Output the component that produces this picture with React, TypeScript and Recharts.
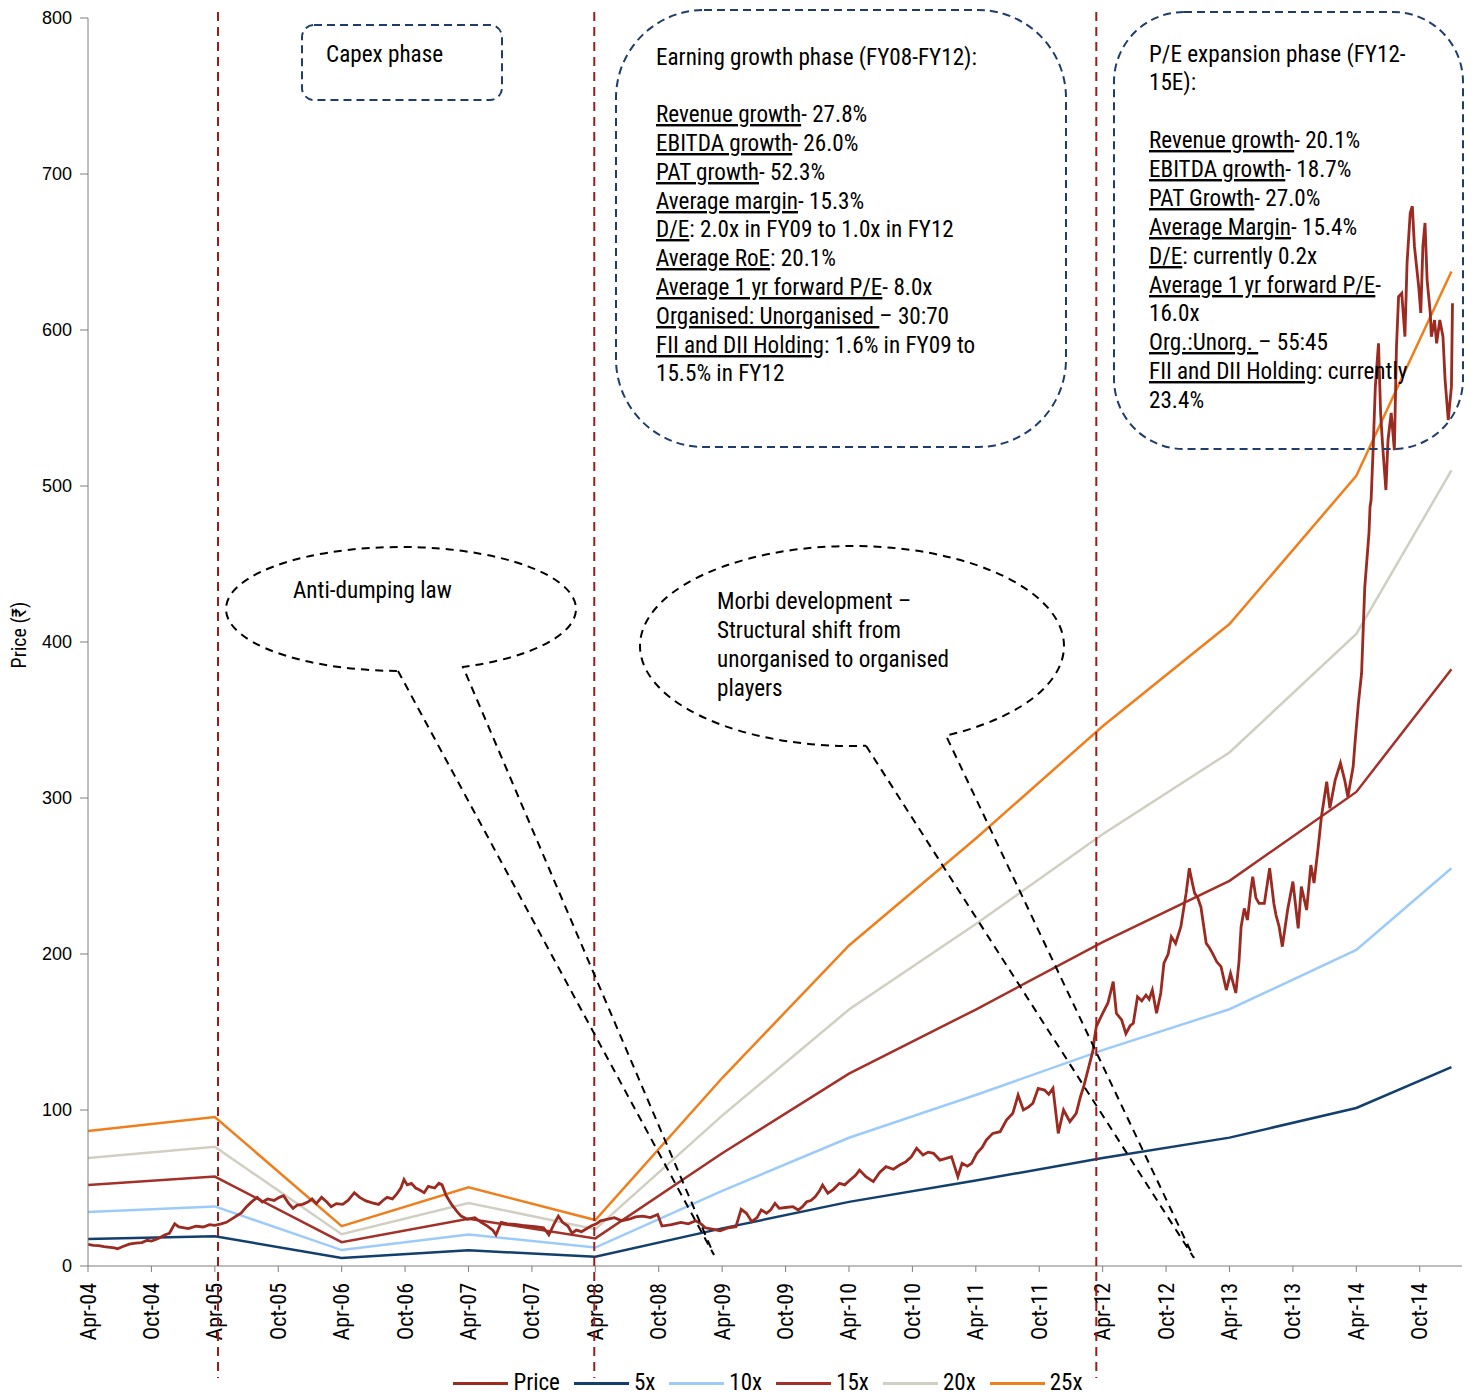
import React from 'react';
import { LineChart, Line, XAxis, YAxis, Legend } from 'recharts';

// ---------- DATA ----------
// months since Apr-04 (0 = Apr-04)
const bandMonths = [0, 12, 24, 36, 48, 60, 72, 84, 96, 108, 120, 129];
const pe5x = [17.3, 19.1, 5.1, 10.1, 5.9, 24.1, 41.1, 54.8, 69.2, 82.3, 101.3, 127.5];
const pe10x = [34.6, 38.2, 10.2, 20.2, 11.8, 48.2, 82.2, 109.6, 138.4, 164.6, 202.6, 255];
const pe15x = [51.9, 57.3, 15.3, 30.3, 17.7, 72.3, 123.3, 164.4, 207.6, 246.9, 303.9, 382.5];
const pe20x = [69.2, 76.4, 20.4, 40.4, 23.6, 96.4, 164.4, 219.2, 276.8, 329.2, 405.2, 510];
const pe25x = [86.5, 95.5, 25.5, 50.5, 29.5, 120.5, 205.5, 274, 346, 411.5, 506.5, 637.5];

// [month, price]
const pricePoints: [number, number][] = [
  [0, 13.9], [0.5, 13.2], [1, 13], [1.5, 12.4], [2.1, 12], [2.5, 11.6], [2.8, 11], [3.3, 12.5], [3.9, 14],
  [4.5, 14.6], [5.1, 15], [5.6, 16.5], [6, 16], [6.6, 17.5], [7.3, 20], [7.7, 21], [8.2, 27], [8.6, 25],
  [9.5, 24], [10.2, 25.5], [10.9, 25], [11.5, 26.5], [12, 26], [12.6, 27], [13.1, 28], [13.8, 31], [14.5, 34],
  [15, 38], [15.4, 40.6], [16, 44], [16.5, 41], [17, 43], [17.6, 42], [18.1, 44], [18.5, 45], [19, 40],
  [19.4, 37], [19.8, 39], [20.3, 39.5], [20.8, 41], [21.2, 43], [21.6, 40], [22.1, 44], [22.6, 41], [23, 38],
  [23.5, 40], [24.1, 39.5], [24.6, 42], [25.2, 47], [25.7, 44], [26.3, 41.7], [26.9, 40.5], [27.5, 39.5],
  [27.9, 42], [28.3, 44], [28.8, 43], [29.2, 46], [29.6, 50], [29.9, 55.5], [30.2, 52], [30.6, 53], [31, 50],
  [31.3, 49], [31.8, 47], [32.2, 51], [32.8, 50], [33.2, 53], [33.5, 52], [33.9, 45], [34.4, 39.5], [34.9, 35],
  [35.3, 32], [35.9, 30], [36.6, 31], [37.2, 28], [37.8, 25.6], [38.3, 23], [38.6, 20], [39.1, 28], [39.7, 27],
  [40.4, 26.7], [41.1, 26], [41.8, 25.6], [42.5, 25], [43.1, 24.5], [43.6, 20], [44.1, 27], [44.5, 32],
  [44.9, 28], [45.4, 25.6], [45.8, 21], [46.2, 23], [46.7, 22], [47.2, 24], [47.6, 25.6], [48.1, 27],
  [48.5, 29], [49.2, 30], [49.8, 31], [50.5, 29], [51.2, 30], [51.8, 31.5], [52.5, 32], [53.2, 31], [53.9, 33],
  [54.3, 25.6], [55.2, 26.5], [56.1, 28], [56.8, 27], [57.5, 29], [58, 27], [58.4, 24.5], [59.2, 23.5],
  [59.8, 22.5], [60.6, 24.5], [61.3, 25.2], [61.8, 36.3], [62.3, 33.8], [62.8, 28.4], [63.3, 31], [63.7, 35.9],
  [64.2, 33.8], [64.6, 36], [65, 40.2], [65.4, 37], [66, 37.5], [66.7, 38], [67.2, 35.9], [67.6, 38],
  [68, 41.2], [68.4, 42], [68.8, 44.4], [69.2, 48], [69.5, 51.9], [70, 46.6], [70.5, 49], [71.1, 53],
  [71.6, 52], [72.1, 55.1], [72.6, 58], [73, 61.5], [73.6, 57.3], [74.3, 54.1], [74.9, 60], [75.5, 63.7],
  [76.2, 62], [76.8, 64.7], [77.4, 66.9], [77.9, 70], [78.4, 75.4], [79, 71.1], [79.5, 73], [80, 72.2],
  [80.6, 67.9], [81.2, 69], [81.7, 70.1], [82.3, 57.3], [82.7, 65.8], [83.2, 64], [83.6, 65.8], [84.1, 72.2],
  [84.6, 76], [85, 80.8], [85.6, 85], [86.3, 86.1], [86.9, 93.6], [87.5, 97.9], [88, 109.6], [88.5, 100],
  [89, 102], [89.4, 104.3], [89.9, 113.9], [90.5, 112.8], [90.9, 110], [91.3, 113.9], [91.8, 85], [92.3, 100],
  [92.9, 92.5], [93.5, 97.9], [93.9, 108.5], [94.2, 114.9],
  [95.1, 138.5], [95.2, 144.9], [95.4, 153.4], [96, 162], [96.5, 168.6], [97, 182.3], [97.3, 162],
  [97.8, 157.7], [98.2, 149], [98.6, 154], [98.9, 155.6], [99.3, 172.6], [99.7, 170], [100.1, 173.7],
  [100.4, 171], [100.7, 176.9], [101.1, 162], [101.5, 175], [101.8, 194.2], [102.2, 200], [102.5, 211],
  [102.9, 206.8], [103.4, 217.5], [103.9, 239], [104.2, 255], [104.5, 245], [104.7, 239], [105, 236],
  [105.3, 230], [105.8, 206.8], [106.1, 204], [106.4, 200.4], [106.8, 195], [107.2, 191.9], [107.7, 176.9],
  [108.1, 187.6], [108.6, 175], [108.9, 195], [109.1, 217.5], [109.4, 229.2], [109.7, 221.8], [110, 240],
  [110.2, 249.6], [110.5, 236], [110.8, 232.4], [111.3, 232.4], [111.8, 255], [112.2, 232.4], [112.4, 225],
  [112.7, 217.5], [113, 204.7], [113.5, 228.2], [114, 246.4], [114.5, 216.4], [114.8, 243.2], [115.3, 228.2],
  [115.7, 257], [116, 245.5], [116.4, 268.8], [116.7, 288], [117.2, 310.4], [117.5, 293.4], [118, 311.5],
  [118.5, 322.4], [118.9, 311.5], [119.2, 300.8], [119.7, 320], [119.9, 337.2], [120.2, 360.9], [120.5, 380],
  [120.8, 435], [121.2, 470], [121.3, 486.7], [121.4, 491], [121.6, 525], [121.8, 563.7], [122.1, 591.5],
  [122.3, 546.8], [122.5, 525], [122.8, 497.4], [123, 529.5], [123.3, 546.8], [123.6, 523], [123.8, 589.3],
  [124, 621.4], [124.3, 623.5], [124.6, 595.7], [124.8, 642.7], [125.1, 675], [125.3, 679.3], [125.5, 653.6],
  [125.9, 627.9], [126.1, 610.9], [126.3, 653.6], [126.5, 668.6], [126.7, 632], [127, 610.9], [127.1, 595.7],
  [127.4, 606.4], [127.6, 591.5], [127.9, 606.4], [128.2, 595.7], [128.4, 568], [128.7, 542.3], [129, 563.7],
  [129.1, 617.1],
];

const tickMonths = [0, 6, 12, 18, 24, 30, 36, 42, 48, 54, 60, 66, 72, 78, 84, 90, 96, 102, 108, 114, 120, 126];
const tickLabels = [
  'Apr-04', 'Oct-04', 'Apr-05', 'Oct-05', 'Apr-06', 'Oct-06', 'Apr-07', 'Oct-07', 'Apr-08', 'Oct-08',
  'Apr-09', 'Oct-09', 'Apr-10', 'Oct-10', 'Apr-11', 'Oct-11', 'Apr-12', 'Oct-12', 'Apr-13', 'Oct-13',
  'Apr-14', 'Oct-14',
];
const yTicks = [0, 100, 200, 300, 400, 500, 600, 700, 800];
const phaseMonths = [12.3, 47.9, 95.4];

// ---------- STYLE ----------
const W = 1469;
const H = 1388;
const M = { top: 10, right: 15, left: 0, bottom: 50 };
const Y_W = 80;
const X_H = 80;
const X_MAX = 130;
const NARROW = "'Roboto Condensed', 'Liberation Sans Narrow', 'DejaVu Sans Condensed', sans-serif";
const REG = "'Liberation Sans', Arial, sans-serif";
const SQ = 0.965; // slight horizontal squeeze

const C = {
  price: '#9B2A21',
  x5: '#123F6C',
  x10: '#9DCBF9',
  x15: '#A3312A',
  x20: '#D1CFC1',
  x25: '#EF7F1C',
};

const bandData = bandMonths.map((m, i) => ({
  m,
  x5: pe5x[i],
  x10: pe10x[i],
  x15: pe15x[i],
  x20: pe20x[i],
  x25: pe25x[i],
}));
const priceData = pricePoints.map(([m, p]) => ({ m, price: p }));

const series = [
  { key: 'price', name: 'Price', color: C.price },
  { key: 'x5', name: '5x', color: C.x5 },
  { key: 'x10', name: '10x', color: C.x10 },
  { key: 'x15', name: '15x', color: C.x15 },
  { key: 'x20', name: '20x', color: C.x20 },
  { key: 'x25', name: '25x', color: C.x25 },
];

const plotLeft = M.left + Y_W;
const plotRight = W - M.right;
const plotTop = M.top;
const plotBottom = H - M.bottom - X_H;
const sx = (m: number) => plotLeft + (m / X_MAX) * (plotRight - plotLeft);

const XTick = (props: any) => {
  const { x, y, payload } = props;
  const idx = tickMonths.indexOf(payload.value);
  return (
    <text
      transform={`translate(${x},${y + 9}) rotate(-90)`}
      textAnchor="end"
      dominantBaseline="central"
      fontSize={22}
      fontFamily={NARROW}
      fill="#000"
    >
      {idx >= 0 ? tickLabels[idx] : ''}
    </text>
  );
};

const renderLegend = () => (
  <div
    style={{
      display: 'flex',
      justifyContent: 'center',
      alignItems: 'center',
      height: 24,
      fontFamily: NARROW,
      fontSize: 23,
      color: '#000',
    }}
  >
    {series.map((s) => (
      <div key={s.key} style={{ display: 'flex', alignItems: 'center', marginRight: 14 }}>
        <div style={{ width: 55, height: 3, background: s.color, marginRight: 5 }} />
        <span style={{ lineHeight: '24px' }}>{s.name}</span>
      </div>
    ))}
  </div>
);

const dashBox = '#1F3D68';
const u = { textDecoration: 'underline' } as React.CSSProperties;

const Squeeze = ({ x0, children }: { x0: number; children: React.ReactNode }) => (
  <g transform={`translate(${x0} 0) scale(${SQ} 1) translate(${-x0} 0)`}>{children}</g>
);

const Annotations = () => {
  const ellipsePath = (
    cx: number, cy: number, rx: number, ry: number,
    xl: number, xr: number, tipX: number, tipY: number
  ) => {
    const yl = cy + ry * Math.sqrt(1 - ((xl - cx) / rx) ** 2);
    const yr = cy + ry * Math.sqrt(1 - ((xr - cx) / rx) ** 2);
    return `M ${xl} ${yl} L ${tipX} ${tipY} L ${xr} ${yr} A ${rx} ${ry} 0 1 0 ${xl} ${yl}`;
  };
  return (
    <svg
      width={W}
      height={H}
      style={{ position: 'absolute', left: 0, top: 0, pointerEvents: 'none', overflow: 'visible' }}
    >
      {phaseMonths.map((m) => (
        <line key={m} x1={sx(m)} x2={sx(m)} y1={4} y2={1370} stroke="#9E1B1B" strokeWidth={2} strokeDasharray="9 6" />
      ))}

      {/* Y axis title */}
      <text
        transform={`translate(11, ${(plotTop + plotBottom) / 2 - 7}) rotate(-90)`}
        textAnchor="middle"
        dominantBaseline="central"
        fontSize={20}
        fontFamily={NARROW}
        fill="#000"
      >
        Price (₹)
      </text>

      {/* Capex phase */}
      <rect x={294} y={17} width={200} height={75} rx={12} fill="none" stroke={dashBox} strokeWidth={2} strokeDasharray="8 5" />
      <Squeeze x0={318}>
        <text x={318} y={54} fontSize={24} fontFamily={NARROW} fill="#000">Capex phase</text>
      </Squeeze>

      {/* Earning growth phase */}
      <rect x={608} y={2} width={450} height={437} rx={88} fill="none" stroke={dashBox} strokeWidth={2} strokeDasharray="8 5" />
      <Squeeze x0={648}>
        <text fontSize={24} fontFamily={NARROW} fill="#000">
          <tspan x={648} y={57}>Earning growth phase (FY08-FY12):</tspan>
          <tspan x={648} y={114}><tspan style={u}>Revenue growth</tspan>- 27.8%</tspan>
          <tspan x={648} y={143}><tspan style={u}>EBITDA growth</tspan>- 26.0%</tspan>
          <tspan x={648} y={172}><tspan style={u}>PAT growth</tspan>- 52.3%</tspan>
          <tspan x={648} y={201}><tspan style={u}>Average margin</tspan>- 15.3%</tspan>
          <tspan x={648} y={229}><tspan style={u}>D/E</tspan>: 2.0x in FY09 to 1.0x in FY12</tspan>
          <tspan x={648} y={258}><tspan style={u}>Average RoE</tspan>:  20.1%</tspan>
          <tspan x={648} y={287}><tspan style={u}>Average 1 yr forward P/E</tspan>- 8.0x</tspan>
          <tspan x={648} y={316}><tspan style={u}>Organised: Unorganised </tspan>– 30:70</tspan>
          <tspan x={648} y={345}><tspan style={u}>FII and DII Holding</tspan>: 1.6% in FY09 to</tspan>
          <tspan x={648} y={373}>15.5% in FY12</tspan>
        </text>
      </Squeeze>

      {/* P/E expansion phase */}
      <rect x={1106} y={4} width={349} height={437} rx={70} fill="none" stroke={dashBox} strokeWidth={2} strokeDasharray="8 5" />
      <Squeeze x0={1141}>
        <text fontSize={24} fontFamily={NARROW} fill="#000">
          <tspan x={1141} y={54}>P/E expansion phase (FY12-</tspan>
          <tspan x={1141} y={82}>15E):</tspan>
          <tspan x={1141} y={140}><tspan style={u}>Revenue growth</tspan>- 20.1%</tspan>
          <tspan x={1141} y={169}><tspan style={u}>EBITDA growth</tspan>- 18.7%</tspan>
          <tspan x={1141} y={198}><tspan style={u}>PAT Growth</tspan>- 27.0%</tspan>
          <tspan x={1141} y={227}><tspan style={u}>Average Margin</tspan>- 15.4%</tspan>
          <tspan x={1141} y={256}><tspan style={u}>D/E</tspan>: currently 0.2x</tspan>
          <tspan x={1141} y={285}><tspan style={u}>Average 1 yr forward P/E</tspan>-</tspan>
          <tspan x={1141} y={313}>16.0x</tspan>
          <tspan x={1141} y={342}><tspan style={u}>Org.:Unorg. </tspan>– 55:45</tspan>
          <tspan x={1141} y={371}><tspan style={u}>FII and DII Holding</tspan>: currently</tspan>
          <tspan x={1141} y={400}>23.4%</tspan>
        </text>
      </Squeeze>

      {/* Anti-dumping callout */}
      <path
        d={ellipsePath(393, 601, 175, 62, 390, 455, 706, 1247)}
        fill="none"
        stroke="#000"
        strokeWidth={2}
        strokeDasharray="8 6"
      />
      <Squeeze x0={285}>
        <text x={285} y={590} fontSize={24} fontFamily={NARROW} fill="#000">Anti-dumping law</text>
      </Squeeze>

      {/* Morbi callout */}
      <path
        d={ellipsePath(844, 638, 212, 100, 858, 938, 1186, 1250)}
        fill="none"
        stroke="#000"
        strokeWidth={2}
        strokeDasharray="8 6"
      />
      <Squeeze x0={709}>
        <text fontSize={24} fontFamily={NARROW} fill="#000">
          <tspan x={709} y={601}>Morbi development –</tspan>
          <tspan x={709} y={630}>Structural shift from</tspan>
          <tspan x={709} y={659}>unorganised to organised</tspan>
          <tspan x={709} y={688}>players</tspan>
        </text>
      </Squeeze>
    </svg>
  );
};

export default function App() {
  return (
    <div style={{ position: 'relative', width: W, height: H, background: '#fff' }}>
      <LineChart width={W} height={H} margin={M}>
        <XAxis
          dataKey="m"
          type="number"
          domain={[0, X_MAX]}
          ticks={tickMonths}
          interval={0}
          height={X_H}
          tick={<XTick />}
          tickSize={6}
          stroke="#7F7F7F"
          allowDataOverflow
        />
        <YAxis
          type="number"
          domain={[0, 800]}
          ticks={yTicks}
          interval={0}
          width={Y_W}
          tickSize={8}
          tickMargin={8}
          stroke="#7F7F7F"
          tick={{ fontSize: 18, fill: '#000', fontFamily: REG }}
        />
        <Legend
          verticalAlign="middle"
          layout="horizontal"
          width={plotRight - plotLeft}
          wrapperStyle={{ top: 1363, left: plotLeft, width: plotRight - plotLeft }}
          content={renderLegend}
        />
        <Line data={bandData} dataKey="x5" name="5x" stroke={C.x5} strokeWidth={2.5} dot={false} isAnimationActive={false} type="linear" />
        <Line data={bandData} dataKey="x10" name="10x" stroke={C.x10} strokeWidth={2.5} dot={false} isAnimationActive={false} type="linear" />
        <Line data={bandData} dataKey="x15" name="15x" stroke={C.x15} strokeWidth={2.5} dot={false} isAnimationActive={false} type="linear" />
        <Line data={bandData} dataKey="x20" name="20x" stroke={C.x20} strokeWidth={2.5} dot={false} isAnimationActive={false} type="linear" />
        <Line data={bandData} dataKey="x25" name="25x" stroke={C.x25} strokeWidth={2.5} dot={false} isAnimationActive={false} type="linear" />
        <Line data={priceData} dataKey="price" name="Price" stroke={C.price} strokeWidth={2.8} dot={false} isAnimationActive={false} type="linear" />
      </LineChart>
      <Annotations />
    </div>
  );
}
